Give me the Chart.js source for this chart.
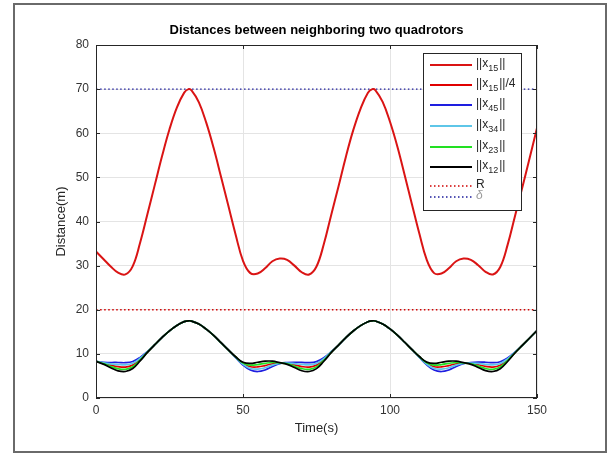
<!DOCTYPE html>
<html>
<head>
<meta charset="utf-8">
<script src="https://cdn.jsdelivr.net/npm/chart.js@4.4.0/dist/chart.umd.min.js"></script>
<style>
  html, body { margin: 0; padding: 0; background: #fff; }
  #wrap { width: 610px; height: 455px; }
</style>
</head>
<body>
<div id="wrap"><canvas id="distChart" width="610" height="455"></canvas></div>
<script>
// time samples (s)
const times = [0,2.5,5,7.5,10,12.5,15,17.5,20,22.5,25,27.5,30,31.5,32.5,35,37.5,40,42.5,45,47.5,50,52.5,55,57.5,60,62.5,65,67.5,70,72.5,75,77.5,80,82.5,85,87.5,90,92.5,94,95,97.5,100,102.5,105,107.5,110,112.5,115,117.5,120,122.5,125,127.5,130,132.5,135,137.5,140,142.5,145,147.5,150];

// distances (m)
const x15 = [33.2,31.5,29.8,28.4,28.0,29.9,35.2,41.7,48.3,54.9,60.9,65.8,69.2,70.0,69.7,67.0,62.4,56.7,50.2,43.6,37.0,31.1,28.3,28.2,29.4,31.0,31.6,31.3,30.0,28.5,28.0,29.8,34.9,41.5,48.0,54.7,60.7,65.6,69.2,70.0,69.8,67.1,62.6,57.0,50.5,43.8,37.2,31.3,28.3,28.2,29.4,31.0,31.6,31.3,30.1,28.6,28.0,29.7,34.7,41.2,47.7,54.4,61.2];
const x15q = [8.3,7.88,7.45,7.1,7.0,7.48,8.8,10.43,12.08,13.73,15.23,16.45,17.3,17.5,17.43,16.75,15.6,14.18,12.55,10.9,9.25,7.78,7.08,7.05,7.35,7.75,7.9,7.83,7.5,7.13,7.0,7.45,8.73,10.38,12.0,13.68,15.18,16.4,17.3,17.5,17.45,16.78,15.65,14.25,12.63,10.95,9.3,7.83,7.08,7.05,7.35,7.75,7.9,7.83,7.53,7.15,7.0,7.43,8.68,10.3,11.93,13.6,15.3];
const x45 = [8.3,8.08,8.05,8.05,8.0,8.28,9.2,10.53,12.08,13.73,15.23,16.45,17.3,17.5,17.43,16.75,15.6,14.18,12.55,10.9,9.15,7.48,6.33,6.0,6.35,7.15,7.8,8.03,8.1,8.08,8.0,8.25,9.13,10.48,12.0,13.68,15.18,16.4,17.3,17.5,17.45,16.78,15.65,14.25,12.63,10.95,9.2,7.53,6.33,6.0,6.35,7.15,7.8,8.03,8.13,8.1,8.0,8.23,9.08,10.4,11.93,13.6,15.3];
const x34 = [8.3,7.98,7.75,7.58,7.5,7.88,9.0,10.48,12.08,13.73,15.23,16.45,17.3,17.5,17.43,16.75,15.6,14.18,12.55,10.9,9.2,7.63,6.7,6.53,6.85,7.45,7.85,7.93,7.8,7.6,7.5,7.85,8.93,10.43,12.0,13.68,15.18,16.4,17.3,17.5,17.45,16.78,15.65,14.25,12.63,10.95,9.25,7.68,6.7,6.53,6.85,7.45,7.85,7.93,7.83,7.63,7.5,7.83,8.88,10.35,11.93,13.6,15.3];
const x23 = [8.3,7.78,7.15,6.63,6.5,7.08,8.6,10.38,12.08,13.73,15.23,16.45,17.3,17.5,17.43,16.75,15.6,14.18,12.55,10.9,9.3,7.93,7.45,7.58,7.85,8.05,7.95,7.73,7.2,6.65,6.5,7.05,8.53,10.33,12.0,13.68,15.18,16.4,17.3,17.5,17.45,16.78,15.65,14.25,12.63,10.95,9.35,7.98,7.45,7.58,7.85,8.05,7.95,7.73,7.23,6.68,6.5,7.03,8.48,10.25,11.93,13.6,15.3];
const x12 = [8.3,7.68,6.85,6.15,6.0,6.68,8.4,10.33,12.08,13.73,15.23,16.45,17.3,17.5,17.43,16.75,15.6,14.18,12.55,10.9,9.35,8.08,7.83,8.1,8.35,8.35,8.0,7.63,6.9,6.18,6.0,6.65,8.33,10.28,12.0,13.68,15.18,16.4,17.3,17.5,17.45,16.78,15.65,14.25,12.63,10.95,9.4,8.13,7.83,8.1,8.35,8.35,8.0,7.63,6.93,6.2,6.0,6.63,8.28,10.2,11.93,13.6,15.3];

// constant levels
const rLevel = 20;
const deltaLevel = 70;
const timeRange = [0, 150];

const legendLabels = ['||x_{15}||', '||x_{15}||/4', '||x_{45}||', '||x_{34}||', '||x_{23}||', '||x_{12}||', 'R', 'δ'];

function pts(arr) {
    return times.map((t, i) => ({ x: t, y: arr[i] }));
}
function level(v) {
    return timeRange.map(t => ({ x: t, y: v }));
}

const dotted = [1.5, 2.5];

const datasets = [
    { data: pts(x15),  borderColor: '#da1414', borderWidth: 2,   order: 6 },
    { data: pts(x15q), borderColor: '#e00000', borderWidth: 1.7, order: 5 },
    { data: pts(x45),  borderColor: '#1e1ee0', borderWidth: 1.7, order: 4 },
    { data: pts(x34),  borderColor: '#5ec6e8', borderWidth: 1.7, order: 3 },
    { data: pts(x23),  borderColor: '#22e022', borderWidth: 1.7, order: 2 },
    { data: pts(x12),  borderColor: '#000000', borderWidth: 1.7, order: 1 },
    { data: level(rLevel),     borderColor: '#d00000', borderWidth: 1.3, borderDash: dotted, order: 7 },
    { data: level(deltaLevel), borderColor: '#1c1c9c', borderWidth: 1.3, borderDash: dotted, order: 8 }
].map((d, i) => Object.assign({
    label: legendLabels[i],
    pointRadius: 0,
    fill: false,
    tension: 0.4
}, d));

const FONT = "'Liberation Sans', Arial, sans-serif";

// draws text, parts in _{..} as subscript
function drawLabel(ctx, text, x, y, italic, color) {
    const parts = text.split(/_\{([^}]*)\}/);
    let cx = x;
    parts.forEach((p, i) => {
        if (!p) return;
        const sub = i % 2 === 1;
        ctx.font = (italic ? 'italic ' : '') + (sub ? '9px ' : '12px ') + FONT;
        ctx.fillStyle = color;
        ctx.textBaseline = 'middle';
        ctx.textAlign = 'left';
        ctx.fillText(p, cx, sub ? y + 5 : y);
        cx += ctx.measureText(p).width + (sub ? 1 : 0);
    });
}

const matlabLook = {
    id: 'matlabLook',
    beforeDraw(chart) {
        const ctx = chart.ctx;
        ctx.save();
        ctx.fillStyle = '#ffffff';
        ctx.fillRect(0, 0, chart.width, chart.height);
        ctx.strokeStyle = '#6a6a6a';
        ctx.lineWidth = 2;
        ctx.strokeRect(14, 4, 592, 448);
        ctx.restore();
    },
    afterDraw(chart) {
        const ctx = chart.ctx;
        const ca = chart.chartArea;
        const xs = chart.scales.x, ys = chart.scales.y;
        ctx.save();

        // axes box and inward ticks
        ctx.strokeStyle = '#262626';
        ctx.lineWidth = 1;
        ctx.strokeRect(ca.left + 0.5, ca.top + 0.5, ca.right - ca.left - 1, ca.bottom - ca.top - 1);
        ctx.beginPath();
        xs.ticks.forEach(t => {
            const px = Math.round(xs.getPixelForValue(t.value)) + 0.5;
            ctx.moveTo(px, ca.bottom); ctx.lineTo(px, ca.bottom - 4);
            ctx.moveTo(px, ca.top); ctx.lineTo(px, ca.top + 4);
        });
        ys.ticks.forEach(t => {
            const py = Math.round(ys.getPixelForValue(t.value)) + 0.5;
            ctx.moveTo(ca.left, py); ctx.lineTo(ca.left + 4, py);
            ctx.moveTo(ca.right, py); ctx.lineTo(ca.right - 4, py);
        });
        ctx.stroke();

        // title
        ctx.font = 'bold 13px ' + FONT;
        ctx.fillStyle = '#000';
        ctx.textAlign = 'center';
        ctx.textBaseline = 'middle';
        ctx.fillText('Distances between neighboring two quadrotors', (ca.left + ca.right) / 2, 30);

        // legend box
        const bx = ca.right - 114, by = ca.top + 8, bw = 98, bh = 157;
        ctx.fillStyle = '#fff';
        ctx.fillRect(bx, by, bw, bh);
        ctx.strokeStyle = '#262626';
        ctx.strokeRect(bx + 0.5, by + 0.5, bw, bh);
        const rows = [12, 32, 52, 73, 94, 114, 133, 144];
        chart.data.datasets.forEach((ds, i) => {
            const y = by + rows[i];
            ctx.beginPath();
            ctx.strokeStyle = ds.borderColor;
            ctx.lineWidth = ds.borderDash ? 1.3 : 2;
            ctx.setLineDash(ds.borderDash || []);
            ctx.moveTo(bx + 7, y);
            ctx.lineTo(bx + 49, y);
            ctx.stroke();
            ctx.setLineDash([]);
            const isDelta = ds.label === 'δ';
            drawLabel(ctx, ds.label, bx + 53, y - 1, isDelta, isDelta ? '#9a9a9a' : '#262626');
        });
        ctx.restore();
    }
};

new Chart(document.getElementById('distChart').getContext('2d'), {
    type: 'line',
    data: { datasets: datasets },
    options: {
        responsive: false,
        animation: false,
        layout: { padding: { left: 50, right: 73, top: 45, bottom: 0 } },
        plugins: {
            legend: { display: false },
            tooltip: { enabled: false },
            title: { display: false }
        },
        scales: {
            x: {
                type: 'linear',
                min: 0,
                max: 150,
                ticks: { stepSize: 50, padding: 5, color: '#333', font: { family: FONT, size: 12 } },
                grid: { color: '#e4e4e4', drawTicks: false },
                border: { display: false },
                title: { display: true, text: 'Time(s)', color: '#262626', font: { family: FONT, size: 13 }, padding: { top: 0, bottom: 19 } },
                afterFit(scale) { scale.height = 57; }
            },
            y: {
                min: 0,
                max: 80,
                ticks: { stepSize: 10, padding: 7, color: '#333', font: { family: FONT, size: 12 } },
                grid: { color: '#e4e4e4', drawTicks: false },
                border: { display: false },
                title: { display: true, text: 'Distance(m)', color: '#262626', font: { family: FONT, size: 13 }, padding: { top: 4, bottom: 0 } },
                afterFit(scale) { scale.width = 46; }
            }
        }
    },
    plugins: [matlabLook]
});
</script>
</body>
</html>
